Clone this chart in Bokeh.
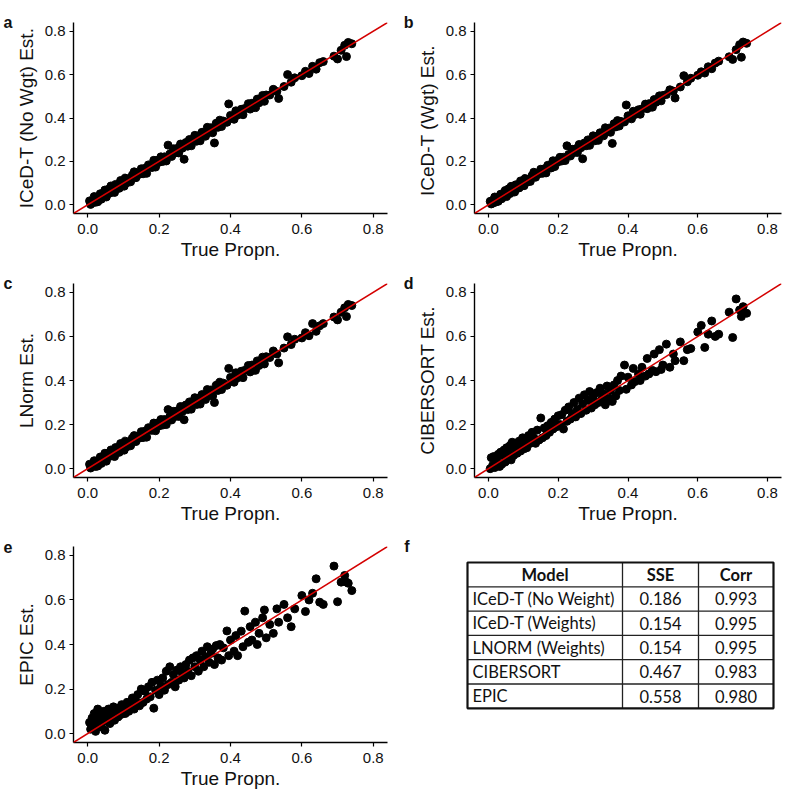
from bokeh.plotting import figure
from bokeh.models import Range1d, FixedTicker, PrintfTickFormatter, Slope, LinearAxis
from bokeh.layouts import column, row
from bokeh.core.properties import value
from bokeh.embed import file_html
from bokeh.resources import INLINE

# ---------------- data ----------------
true_prop = [
    0.005, 0.008, 0.012, 0.015, 0.018, 0.022, 0.025, 0.028, 0.032, 0.035,
    0.038, 0.042, 0.045, 0.048, 0.052, 0.055, 0.058, 0.062, 0.065, 0.068,
    0.072, 0.075, 0.078, 0.082, 0.085, 0.088, 0.092, 0.095, 0.098, 0.102,
    0.105, 0.11, 0.115, 0.12, 0.125, 0.13, 0.135, 0.14, 0.145, 0.15,
    0.155, 0.16, 0.165, 0.17, 0.175, 0.18, 0.185, 0.19, 0.195, 0.2,
    0.205, 0.21, 0.215, 0.22, 0.225, 0.23, 0.235, 0.24, 0.245, 0.25,
    0.255, 0.26, 0.265, 0.27, 0.275, 0.28, 0.285, 0.29, 0.295, 0.3,
    0.305, 0.31, 0.315, 0.32, 0.325, 0.33, 0.335, 0.34, 0.345, 0.35,
    0.355, 0.36, 0.365, 0.37, 0.375, 0.38, 0.39, 0.395, 0.4, 0.41,
    0.415, 0.42, 0.43, 0.435, 0.44, 0.45, 0.455, 0.46, 0.47, 0.475,
    0.48, 0.49, 0.495, 0.5, 0.51, 0.52, 0.53, 0.535, 0.55, 0.56,
    0.57, 0.58, 0.6, 0.61, 0.62, 0.63, 0.64, 0.65, 0.66, 0.69,
    0.7, 0.71, 0.72, 0.725, 0.73, 0.74,
]

iced_nowgt_est = [
    0.018, 0.002, 0.018, 0.011, 0.038, 0.012, 0.033, 0.014, 0.034, 0.051,
    0.026, 0.052, 0.041, 0.068, 0.036, 0.059, 0.072, 0.054, 0.087, 0.066,
    0.080, 0.057, 0.094, 0.076, 0.089, 0.076, 0.112, 0.093, 0.108, 0.086,
    0.123, 0.102, 0.119, 0.106, 0.137, 0.152, 0.125, 0.146, 0.141, 0.166,
    0.143, 0.168, 0.145, 0.184, 0.177, 0.172, 0.205, 0.174, 0.205, 0.196,
    0.221, 0.200, 0.221, 0.202, 0.275, 0.234, 0.223, 0.258, 0.239, 0.260,
    0.239, 0.280, 0.261, 0.210, 0.287, 0.270, 0.301, 0.272, 0.301, 0.320,
    0.293, 0.318, 0.295, 0.334, 0.327, 0.316, 0.357, 0.334, 0.355, 0.332,
    0.285, 0.376, 0.357, 0.390, 0.361, 0.386, 0.380, 0.465, 0.412, 0.394,
    0.433, 0.414, 0.440, 0.415, 0.444, 0.466, 0.441, 0.468, 0.448, 0.487,
    0.470, 0.504, 0.477, 0.506, 0.506, 0.532, 0.522, 0.490, 0.545, 0.600,
    0.565, 0.585, 0.595, 0.615, 0.605, 0.638, 0.625, 0.655, 0.660, 0.685,
    0.672, 0.712, 0.735, 0.683, 0.748, 0.742,
]

iced_wgt_est = [
    0.016, 0.004, 0.020, 0.009, 0.036, 0.014, 0.031, 0.016, 0.036, 0.049,
    0.028, 0.050, 0.043, 0.066, 0.038, 0.057, 0.074, 0.052, 0.085, 0.068,
    0.082, 0.059, 0.092, 0.078, 0.087, 0.078, 0.110, 0.095, 0.106, 0.088,
    0.121, 0.104, 0.117, 0.108, 0.135, 0.150, 0.127, 0.144, 0.143, 0.164,
    0.145, 0.166, 0.147, 0.182, 0.179, 0.170, 0.203, 0.176, 0.203, 0.198,
    0.219, 0.202, 0.219, 0.204, 0.272, 0.232, 0.225, 0.256, 0.241, 0.258,
    0.241, 0.278, 0.263, 0.212, 0.285, 0.272, 0.299, 0.274, 0.299, 0.318,
    0.295, 0.316, 0.297, 0.332, 0.325, 0.318, 0.355, 0.336, 0.353, 0.334,
    0.283, 0.374, 0.359, 0.388, 0.363, 0.384, 0.382, 0.460, 0.410, 0.396,
    0.431, 0.416, 0.438, 0.417, 0.442, 0.464, 0.443, 0.466, 0.450, 0.485,
    0.472, 0.502, 0.479, 0.504, 0.508, 0.530, 0.524, 0.492, 0.543, 0.595,
    0.567, 0.583, 0.597, 0.613, 0.607, 0.636, 0.627, 0.653, 0.662, 0.682,
    0.670, 0.715, 0.738, 0.680, 0.750, 0.744,
]

lnorm_est = [
    0.020, 0.003, 0.016, 0.013, 0.036, 0.010, 0.035, 0.012, 0.036, 0.053,
    0.024, 0.054, 0.039, 0.070, 0.034, 0.061, 0.070, 0.056, 0.085, 0.064,
    0.082, 0.055, 0.096, 0.074, 0.091, 0.074, 0.114, 0.091, 0.110, 0.084,
    0.125, 0.100, 0.121, 0.104, 0.139, 0.150, 0.123, 0.148, 0.139, 0.168,
    0.141, 0.170, 0.143, 0.186, 0.175, 0.174, 0.207, 0.172, 0.207, 0.194,
    0.223, 0.198, 0.223, 0.200, 0.268, 0.236, 0.221, 0.260, 0.237, 0.262,
    0.237, 0.282, 0.259, 0.222, 0.289, 0.268, 0.303, 0.270, 0.303, 0.322,
    0.291, 0.320, 0.293, 0.336, 0.329, 0.314, 0.359, 0.332, 0.357, 0.330,
    0.300, 0.378, 0.355, 0.392, 0.359, 0.388, 0.378, 0.455, 0.414, 0.392,
    0.435, 0.412, 0.442, 0.413, 0.446, 0.468, 0.439, 0.470, 0.446, 0.489,
    0.468, 0.506, 0.475, 0.508, 0.504, 0.534, 0.520, 0.480, 0.547, 0.598,
    0.563, 0.587, 0.593, 0.617, 0.603, 0.658, 0.623, 0.648, 0.658, 0.688,
    0.675, 0.710, 0.730, 0.690, 0.745, 0.740,
]

cibersort_est = [
    0.000, 0.050, 0.015, 0.055, 0.005, 0.045, 0.030, 0.065, 0.010, 0.075,
    0.020, 0.060, 0.085, 0.030, 0.095, 0.050, 0.070, 0.105, 0.040, 0.120,
    0.060, 0.095, 0.115, 0.070, 0.100, 0.125, 0.080, 0.110, 0.140, 0.090,
    0.130, 0.095, 0.150, 0.115, 0.165, 0.140, 0.115, 0.175, 0.130, 0.230,
    0.140, 0.185, 0.150, 0.195, 0.165, 0.210, 0.180, 0.225, 0.190, 0.240,
    0.200, 0.245, 0.180, 0.265, 0.215, 0.280, 0.225, 0.250, 0.300, 0.235,
    0.270, 0.320, 0.250, 0.295, 0.335, 0.265, 0.310, 0.350, 0.275, 0.325,
    0.290, 0.345, 0.300, 0.365, 0.315, 0.340, 0.290, 0.375, 0.320, 0.355,
    0.305, 0.380, 0.330, 0.400, 0.355, 0.420, 0.470, 0.360, 0.415, 0.380,
    0.455, 0.395, 0.430, 0.400, 0.460, 0.420, 0.500, 0.430, 0.445, 0.520,
    0.440, 0.540, 0.450, 0.470, 0.565, 0.460, 0.520, 0.490, 0.575, 0.490,
    0.540, 0.545, 0.620, 0.650, 0.550, 0.610, 0.670, 0.600, 0.610, 0.710,
    0.595, 0.770, 0.720, 0.690, 0.735, 0.705,
]

epic_est = [
    0.050, 0.020, 0.070, 0.035, 0.090, 0.010, 0.060, 0.110, 0.045, 0.080,
    0.030, 0.065, 0.100, 0.015, 0.055, 0.085, 0.110, 0.045, 0.095, 0.070,
    0.120, 0.060, 0.090, 0.105, 0.075, 0.115, 0.085, 0.130, 0.095, 0.110,
    0.090, 0.140, 0.100, 0.125, 0.160, 0.110, 0.145, 0.175, 0.125, 0.200,
    0.140, 0.190, 0.155, 0.210, 0.165, 0.230, 0.114, 0.195, 0.240, 0.175,
    0.215, 0.250, 0.195, 0.280, 0.220, 0.300, 0.230, 0.265, 0.210, 0.285,
    0.240, 0.300, 0.270, 0.250, 0.310, 0.280, 0.330, 0.260, 0.340, 0.300,
    0.350, 0.280, 0.330, 0.370, 0.300, 0.345, 0.390, 0.320, 0.360, 0.380,
    0.310, 0.395, 0.340, 0.400, 0.330, 0.385, 0.461, 0.350, 0.420, 0.370,
    0.440, 0.350, 0.460, 0.390, 0.550, 0.410, 0.480, 0.420, 0.500, 0.400,
    0.450, 0.520, 0.555, 0.430, 0.490, 0.450, 0.560, 0.500, 0.580, 0.520,
    0.480, 0.560, 0.620, 0.548, 0.600, 0.630, 0.695, 0.590, 0.580, 0.752,
    0.592, 0.680, 0.710, 0.680, 0.675, 0.642,
]

axis_ticks = [0.0, 0.2, 0.4, 0.6, 0.8]

table_models = ["ICeD-T (No Weight)", "ICeD-T (Weights)", "LNORM (Weights)",
                "CIBERSORT", "EPIC"]
table_sse = ["0.186", "0.154", "0.154", "0.467", "0.558"]
table_corr = ["0.993", "0.995", "0.995", "0.983", "0.980"]
table_header = ["Model", "SSE", "Corr"]

# ---------------- styling ----------------
FONT = "Liberation Sans"
TXT = "#111111"
W = 400


def letter_axis(letter, align="end"):
    # panel letter drawn as the label of an empty outer axis
    return LinearAxis(ticker=FixedTicker(ticks=[]), axis_label=letter,
                      axis_line_color=None, major_tick_line_color=None,
                      minor_tick_line_color=None, major_label_text_font_size="0px",
                      axis_label_orientation="horizontal", axis_label_align=align,
                      axis_label_standoff=0, axis_label_text_font=FONT,
                      axis_label_text_font_size="16px", axis_label_text_font_style="bold",
                      axis_label_text_color=TXT)


def scatter_panel(letter, ylabel, yvals, h, bl, br, bt, bb):
    p = figure(width=W, height=h,
               x_range=Range1d(-0.04, 0.84), y_range=Range1d(-0.04, 0.84),
               output_backend="svg", toolbar_location=None,
               min_border_left=bl, min_border_right=br,
               min_border_top=bt, min_border_bottom=bb)
    p.outline_line_color = None
    p.grid.visible = False
    p.background_fill_color = "white"
    p.border_fill_color = "white"
    p.scatter(true_prop, yvals, size=8, color="black", line_color="black")
    p.add_layout(Slope(gradient=1, y_intercept=0, line_color="#d40000", line_width=1.5))
    for ax in p.axis:
        ax.ticker = FixedTicker(ticks=axis_ticks)
        ax.formatter = PrintfTickFormatter(format="%.1f")
        ax.axis_line_color = "black"
        ax.axis_line_width = 1.4
        ax.major_tick_line_color = "black"
        ax.major_tick_line_width = 1.2
        ax.major_tick_out = 4
        ax.major_tick_in = 0
        ax.minor_tick_line_color = None
        ax.major_label_text_font = FONT
        ax.major_label_text_font_size = "15px"
        ax.major_label_text_color = TXT
        ax.axis_label_text_font = FONT
        ax.axis_label_text_font_size = "19px"
        ax.axis_label_text_font_style = "normal"
        ax.axis_label_text_color = TXT
    p.xaxis.axis_label = "True Propn."
    p.xaxis.major_label_standoff = 6
    p.xaxis.axis_label_standoff = 2
    p.yaxis.axis_label = ylabel
    p.yaxis.major_label_standoff = 4
    p.yaxis.axis_label_standoff = 5
    p.add_layout(letter_axis(letter), "left")
    return p


# row 1: page y 0..264, row 2: 264..528, row 3: 528..792
pa = scatter_panel("a", "ICeD-T (No Wgt) Est.", iced_nowgt_est, 264, 72, 13, 22, 51)
pb = scatter_panel("b", "ICeD-T (Wgt)  Est.", iced_wgt_est, 264, 66, 19, 22, 51)
pc = scatter_panel("c", "LNorm Est.", lnorm_est, 264, 72, 13, 19, 51)
pd = scatter_panel("d", "CIBERSORT Est.", cibersort_est, 264, 66, 19, 19, 51)
pe = scatter_panel("e", "EPIC Est.", epic_est, 264, 72, 13, 18, 50)

# ---------------- panel f: summary table ----------------
f_h, f_bl, f_bt, f_bb = 264, 9, 18, 50
pf = figure(width=W, height=f_h, x_range=Range1d(f_bl, W), y_range=Range1d(f_h - f_bb, f_bt),
            output_backend="svg", toolbar_location=None,
            min_border_left=f_bl, min_border_right=0, min_border_top=f_bt, min_border_bottom=f_bb,
            x_axis_location=None, y_axis_location=None)
pf.outline_line_color = None
pf.grid.visible = False
pf.border_fill_color = "white"
pf.background_fill_color = "white"
# the y range runs top-down here, so the top of the frame is the range "start"
pf.add_layout(letter_axis("f", align="start"), "left")

t_left, t_right, t_top = 67, 373, 34
col_edges = [t_left, 222, 298, t_right]
row_h = 24.3
n_rows = len(table_models) + 1
t_bottom = t_top + row_h * n_rows

inner_x = col_edges[1:-1]
pf.segment(x0=inner_x, y0=[t_top] * len(inner_x), x1=inner_x, y1=[t_bottom] * len(inner_x),
           line_color="#222222", line_width=1.3)
inner_y = [t_top + row_h * (i + 1) for i in range(n_rows - 1)]
pf.segment(x0=[t_left] * len(inner_y), y0=inner_y, x1=[t_right] * len(inner_y), y1=inner_y,
           line_color="#222222", line_width=1.3)
pf.quad(left=[t_left], right=[t_right], top=[t_top], bottom=[t_bottom],
        fill_color=None, line_color="#111111", line_width=2.2)

TFS = "16.5px"
centers = [(col_edges[i] + col_edges[i + 1]) / 2 for i in range(3)]
hy = t_top + row_h / 2
pf.text(x=centers, y=[hy] * 3, text=table_header, text_font=value("Lato"),
        text_font_size=TFS, text_font_style="bold", text_align="center",
        text_baseline="middle", text_color=TXT)
ry = [t_top + row_h * (i + 1.5) for i in range(len(table_models))]
pf.text(x=[t_left + 5] * len(ry), y=ry, text=table_models, text_font=value("Lato"),
        text_font_size=TFS, text_align="left", text_baseline="middle", text_color=TXT)
pf.text(x=[centers[1]] * len(ry), y=ry, text=table_sse, text_font=value("Lato"),
        text_font_size=TFS, text_align="center", text_baseline="middle", text_color=TXT)
pf.text(x=[centers[2]] * len(ry), y=ry, text=table_corr, text_font=value("Lato"),
        text_font_size=TFS, text_align="center", text_baseline="middle", text_color=TXT)

layout = column(row(pa, pb), row(pc, pd), row(pe, pf))

open("out.html", "w").write(file_html(layout, INLINE))
